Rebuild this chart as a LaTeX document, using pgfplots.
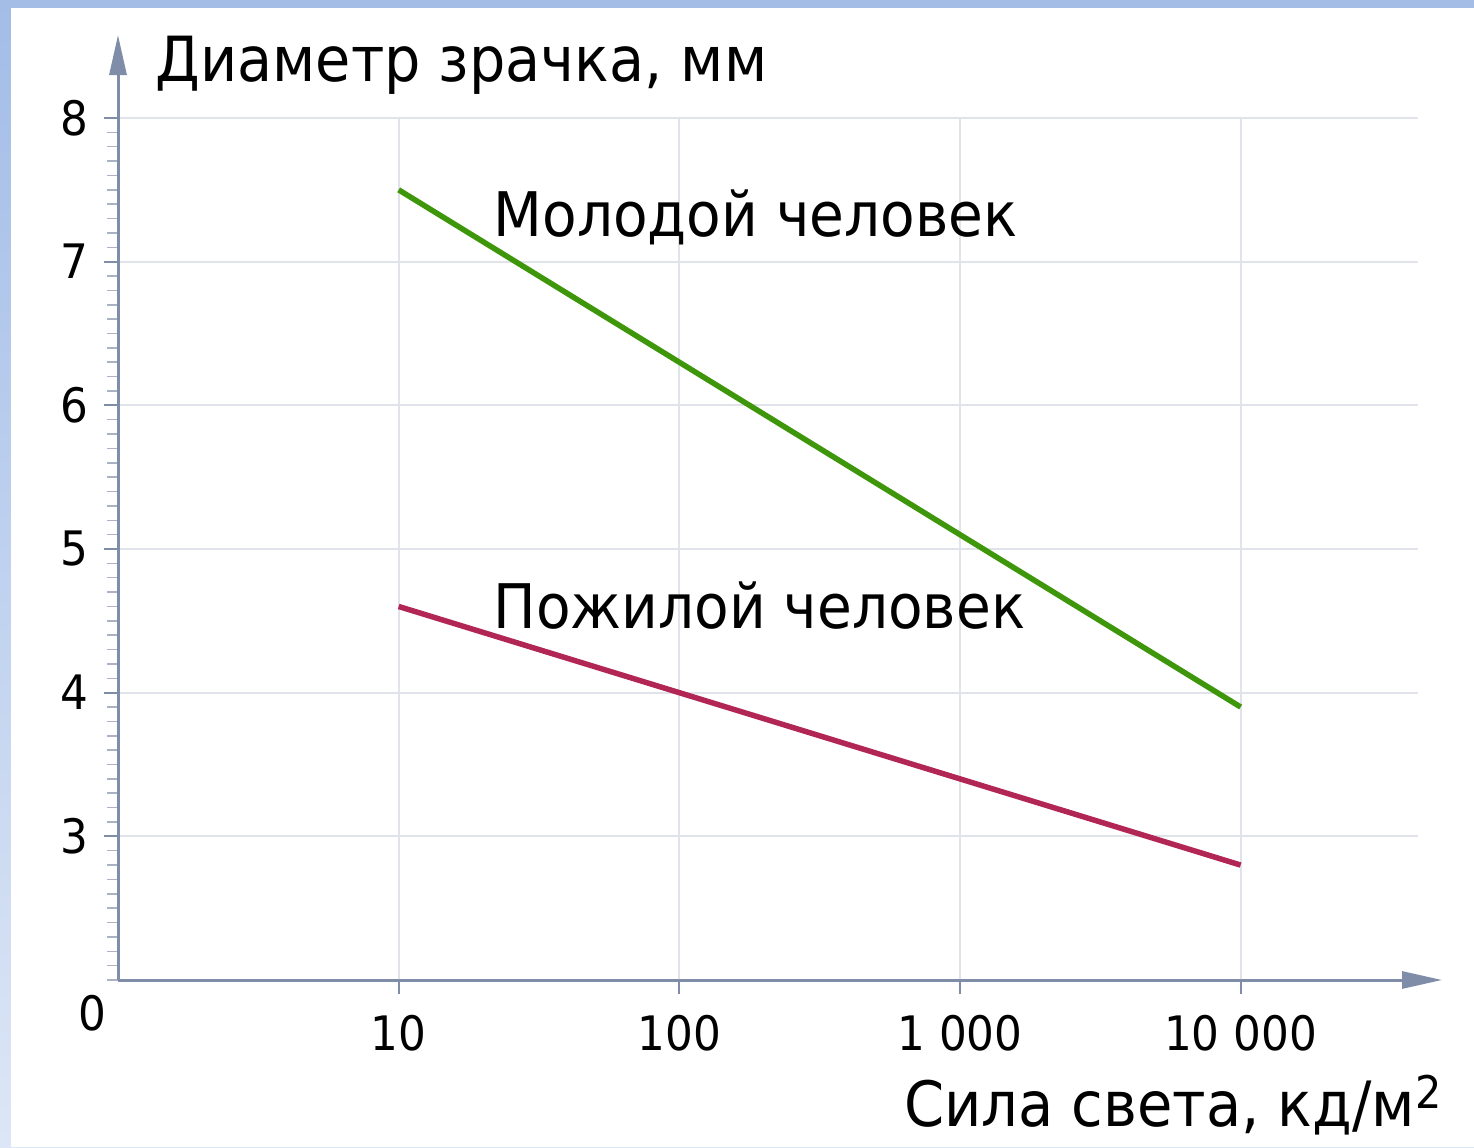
\documentclass[border=0pt]{standalone}
\usepackage{fontspec}
\setmainfont[FakeStretch=0.92]{DejaVu Sans}
\usepackage{pgfplots}
\pgfplotsset{compat=1.18}
\usetikzlibrary{arrows.meta}
\definecolor{axiscol}{RGB}{127,141,168}
\definecolor{minorcol}{RGB}{170,178,195}
\definecolor{gridcol}{RGB}{224,227,234}
\definecolor{young}{RGB}{62,150,10}
\definecolor{old}{RGB}{178,38,86}
\definecolor{bgtop}{RGB}{163,189,231}
\definecolor{bgbot}{RGB}{220,230,246}
% 1 px of the reference = 0.4pt
\begin{document}
\begin{tikzpicture}
\shade[top color=bgtop, bottom color=bgbot] (0,0) rectangle (589.6pt,458.8pt);
\fill[white] (4.4pt,0) rectangle (589.6pt,455.6pt);
\begin{axis}[
  at={(47.2pt,66.8pt)}, anchor=south west,
  scale only axis, width=520pt, height=344.8pt,
  xmode=log, xmin=1, xmax=42850, ymin=2, ymax=8,
  clip=false,
  axis lines=left,
  axis line style={axiscol, line width=1.2pt},
  x axis line style={-{Triangle[length=16pt,width=6.8pt]}, shorten >=-9.6pt},
  y axis line style={-{Triangle[length=16pt,width=6.8pt]}, shorten >=-33.2pt},
  tick align=outside,
  major tick length=5.6pt,
  minor tick length=4.4pt,
  major tick style={axiscol, line width=0.8pt},
  minor tick style={minorcol, line width=0.6pt},
  xminorticks=false,
  grid=major,
  major grid style={gridcol, line width=0.8pt},
  xtick={10,100,1000,10000},
  xticklabels={10,100,1 000,10 000},
  ytick={3,4,5,6,7,8},
  minor ytick={2,2.1,...,8},
  /pgf/number format/assume math mode=true,
  ticklabel style={font=\fontsize{19pt}{22pt}\selectfont},
  xticklabel style={yshift=-4.8pt},
  yticklabel style={xshift=-2.8pt},
  ylabel={Диаметр зрачка, мм},
  ylabel style={rotate=-90, anchor=base west, inner sep=0pt,
    at={(axis description cs:0.0285,1.0418)},
    font=\fontsize{24.9pt}{30pt}\selectfont},
  xlabel={Сила света, кд/м\raisebox{0.3em}{\fontsize{18pt}{18pt}\selectfont 2}},
  xlabel style={anchor=base east, inner sep=0pt,
    at={(axis description cs:1.0185,-0.1705)},
    font=\fontsize{25pt}{30pt}\selectfont},
]
\addplot[young, line width=2.2pt] coordinates {(10,7.5) (100,6.3) (1000,5.1) (10000,3.9)};
\addplot[old, line width=2.2pt] coordinates {(10,4.6) (100,4.0) (1000,3.4) (10000,2.8)};
\node[anchor=base west, inner sep=0pt, font=\fontsize{24.6pt}{28pt}\selectfont]
  at (rel axis cs:0.2885,0.862) {Молодой человек};
\node[anchor=base west, inner sep=0pt, font=\fontsize{24.6pt}{28pt}\selectfont]
  at (rel axis cs:0.2885,0.408) {Пожилой человек};
\node[font=\fontsize{19pt}{22pt}\selectfont] at (rel axis cs:-0.0195,-0.0383) {0};
\end{axis}
\pgfresetboundingbox
\path (0,0) rectangle (589.6pt,458.8pt);
\end{tikzpicture}
\end{document}
